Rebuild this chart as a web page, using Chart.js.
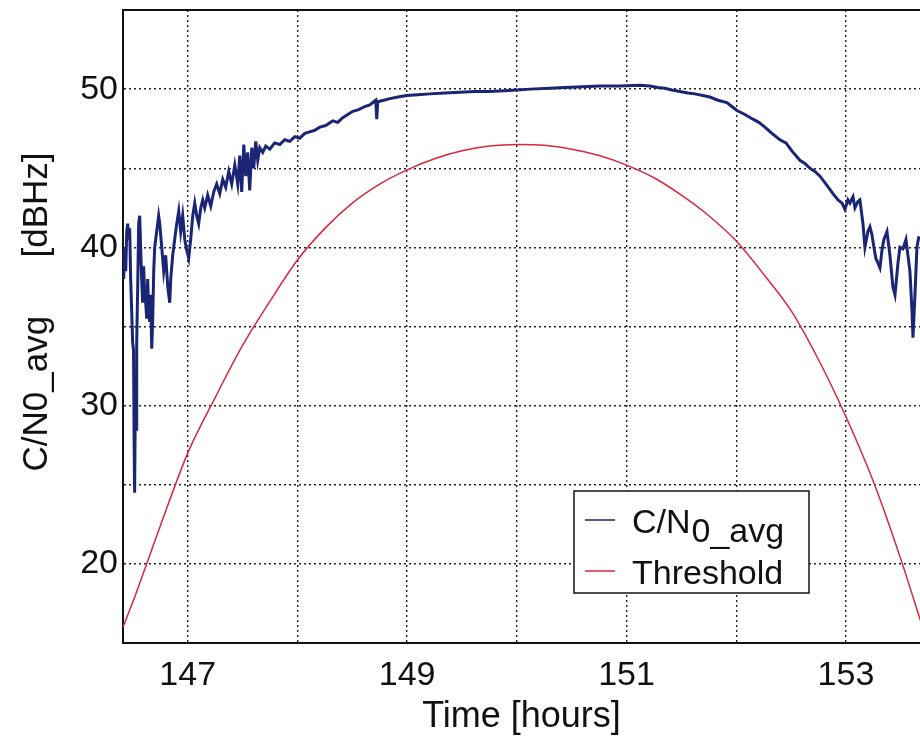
<!DOCTYPE html>
<html>
<head>
<meta charset="utf-8">
<script src="https://cdn.jsdelivr.net/npm/chart.js@4.4.1/dist/chart.umd.min.js"></script>
<style>
  html, body { margin: 0; padding: 0; background: #fff; }
  #wrap { width: 920px; height: 739px; }
</style>
</head>
<body>
<div id="wrap"><canvas id="cnChart" width="920" height="739"></canvas></div>
<script>
// C/N0_avg trace (hours, dBHz)
const cnTime = [
  146.416, 146.426, 146.435, 146.444, 146.453, 146.462, 146.471, 146.480, 146.489, 146.498,
  146.506, 146.511, 146.516, 146.521, 146.526, 146.530, 146.535, 146.544, 146.553, 146.562,
  146.571, 146.580, 146.589, 146.598, 146.608, 146.617, 146.626, 146.635, 146.644, 146.653,
  146.662, 146.672, 146.681, 146.690, 146.699, 146.717, 146.735, 146.745, 146.763, 146.781,
  146.799, 146.818, 146.836, 146.845, 146.863, 146.881, 146.900, 146.918, 146.936, 146.954,
  146.973, 146.991, 147.009, 147.027, 147.046, 147.064, 147.082, 147.100, 147.119, 147.137,
  147.155, 147.182, 147.210, 147.237, 147.264, 147.292, 147.319, 147.346, 147.374, 147.401,
  147.429, 147.456, 147.474, 147.492, 147.511, 147.529, 147.547, 147.565, 147.584, 147.602,
  147.620, 147.638, 147.657, 147.684, 147.711, 147.748, 147.793, 147.839, 147.884, 147.930,
  147.976, 148.021, 148.067, 148.112, 148.158, 148.204, 148.258, 148.322, 148.368, 148.413,
  148.459, 148.505, 148.559, 148.614, 148.660, 148.696, 148.714, 148.723, 148.732, 148.787,
  148.842, 148.915, 148.997, 149.097, 149.207, 149.343, 149.480, 149.617, 149.754, 149.890,
  150.000, 150.119, 150.301, 150.438, 150.602, 150.757, 150.939, 151.122, 151.213, 151.286,
  151.349, 151.413, 151.486, 151.559, 151.623, 151.696, 151.760, 151.833, 151.915, 151.960,
  152.006, 152.079, 152.152, 152.206, 152.261, 152.325, 152.398, 152.453, 152.507, 152.580,
  152.626, 152.672, 152.717, 152.763, 152.818, 152.882, 152.927, 152.964, 152.991, 153.018,
  153.036, 153.064, 153.082, 153.109, 153.127, 153.155, 153.173, 153.200, 153.219, 153.237,
  153.255, 153.273, 153.292, 153.310, 153.328, 153.346, 153.374, 153.401, 153.428, 153.447,
  153.474, 153.492, 153.520, 153.547, 153.565, 153.583, 153.602, 153.611, 153.629, 153.647,
  153.665
];
const cnValue = [
  38.0, 40.0, 38.5, 41.0, 41.5, 40.5, 41.2, 38.0, 36.0, 34.0,
  33.5, 28.0, 24.5, 29.0, 31.0, 28.5, 34.0, 37.5, 41.5, 42.0,
  40.0, 38.0, 36.5, 38.8, 37.0, 36.5, 35.5, 38.0, 36.0, 35.3,
  37.0, 33.6, 35.5, 38.5, 40.0, 41.0, 42.0, 41.5, 40.0, 38.5,
  39.5, 37.5, 36.5, 38.0, 39.5, 40.5, 41.5, 42.3, 41.0, 42.0,
  40.5, 39.8, 39.3, 40.5, 42.0, 42.8, 42.0, 41.5, 42.5, 43.0,
  42.5, 43.3, 42.6, 43.5, 44.0, 43.4, 44.3, 43.8, 44.8, 44.0,
  45.2, 44.0, 45.8, 43.5, 46.5, 44.5, 46.0, 43.6, 46.3, 45.0,
  46.7, 45.5, 46.3, 46.0, 46.4, 46.2, 46.6, 46.5, 46.8, 46.7,
  47.0, 46.9, 47.2, 47.3, 47.4, 47.6, 47.7, 48.0, 47.9, 48.2,
  48.4, 48.6, 48.7, 48.9, 49.0, 49.2, 49.3, 48.1, 49.2, 49.3,
  49.4, 49.5, 49.6, 49.65, 49.7, 49.75, 49.8, 49.85, 49.85, 49.9,
  49.95, 50.0, 50.05, 50.1, 50.15, 50.2, 50.2, 50.25, 50.2, 50.1,
  50.05, 49.95, 49.85, 49.75, 49.7, 49.6, 49.5, 49.3, 49.15, 48.9,
  48.65, 48.4, 48.1, 47.9, 47.6, 47.2, 46.8, 46.6, 46.1, 45.5,
  45.3, 45.0, 44.8, 44.5, 44.0, 43.4, 43.0, 42.8, 42.4, 43.0,
  42.8, 43.2, 42.5, 42.9, 43.0, 41.5, 40.0, 41.0, 41.3, 40.8,
  40.0, 39.3, 39.0, 38.7, 39.8, 40.5, 41.0, 39.5, 37.5, 37.0,
  39.0, 40.0, 39.9, 40.5, 39.5, 38.5, 36.0, 34.3, 37.0, 40.0,
  40.7
];

// Threshold curve (hours, dBHz)
const thrTime = [
  146.41, 146.5, 146.75, 147.0, 147.25, 147.5, 147.75, 148.0, 148.25, 148.5,
  148.75, 149.0, 149.25, 149.5, 149.75, 150.0, 150.25, 150.5, 150.75, 151.0,
  151.25, 151.5, 151.75, 152.0, 152.25, 152.5, 152.75, 153.0, 153.25, 153.5, 153.68
];
const thrValue = [
  16.0, 17.6, 22.4, 27.0, 30.5, 33.8, 36.6, 39.2, 41.2, 42.8,
  44.0, 44.9, 45.6, 46.1, 46.4, 46.5, 46.45, 46.2, 45.8, 45.2,
  44.4, 43.3, 42.0, 40.4, 38.3, 36.0, 32.9, 29.3, 25.2, 20.3, 16.4
];

// Axis ticks
const xGridHours = [147, 148, 149, 150, 151, 152, 153];
const xLabelHours = [147, 149, 151, 153];
const yLabelValues = [20, 30, 40, 50];

const seriesLabels = ['C/N0_avg', 'Threshold'];
const seriesColors = ['#1b2575', '#d8283c'];

const FONT = "'Liberation Sans', Arial, sans-serif";
const gridStyle = { color: '#222', lineWidth: 1.4, drawTicks: false };

// Legend box drawn inside the plot area
const legendBox = {
    id: 'legendBox',
    afterDraw(chart) {
        const ctx = chart.ctx;
        ctx.save();
        ctx.fillStyle = '#fff';
        ctx.fillRect(574, 491, 235, 102);
        ctx.strokeStyle = '#222';
        ctx.lineWidth = 1.6;
        ctx.strokeRect(574, 491, 235, 102);

        const rows = [{ y: 520, base: 533 }, { y: 571, base: 584 }];
        chart.data.datasets.forEach((ds, i) => {
            ctx.strokeStyle = ds.borderColor;
            ctx.lineWidth = 1.5;
            ctx.beginPath();
            ctx.moveTo(585, rows[i].y);
            ctx.lineTo(615, rows[i].y);
            ctx.stroke();
            ctx.fillStyle = '#111';
            ctx.font = '34px ' + FONT;
            ctx.textBaseline = 'alphabetic';
            ctx.textAlign = 'left';
            if (ds.label.startsWith('C/N')) {
                // subscript part of C/N0_avg sits a little lower
                ctx.fillText('C/N', 632, rows[i].base);
                const w = ctx.measureText('C/N').width;
                ctx.fillText(ds.label.slice(3), 632 + w + 1, rows[i].base + 9);
            } else {
                ctx.fillText(ds.label, 632, rows[i].base);
            }
        });
        ctx.restore();
    }
};

new Chart(document.getElementById('cnChart'), {
    type: 'line',
    data: {
        datasets: [
            {
                label: seriesLabels[0],
                data: cnTime.map((t, i) => ({ x: t, y: cnValue[i] })),
                borderColor: seriesColors[0],
                borderWidth: 3,
                pointRadius: 0,
                tension: 0,
                fill: false
            },
            {
                label: seriesLabels[1],
                data: thrTime.map((t, i) => ({ x: t, y: thrValue[i] })),
                borderColor: seriesColors[1],
                borderWidth: 1.5,
                pointRadius: 0,
                cubicInterpolationMode: 'monotone',
                fill: false
            }
        ]
    },
    options: {
        responsive: false,
        animation: false,
        layout: { padding: { top: 10, right: 0, bottom: 0, left: 0 } },
        plugins: {
            legend: { display: false },
            tooltip: { enabled: false }
        },
        scales: {
            x: {
                type: 'linear',
                position: 'bottom',
                min: 146.41,
                max: 153.675,
                afterBuildTicks: s => { s.ticks = xGridHours.map(v => ({ value: v })); },
                afterFit: s => { s.height = 96; s.paddingLeft = 0; s.paddingRight = 0; },
                grid: gridStyle,
                border: { display: true, color: '#111', width: 2, dash: [2, 3] },
                ticks: {
                    padding: 12,
                    color: '#111',
                    font: { family: FONT, size: 34 },
                    maxRotation: 0,
                    autoSkip: false,
                    callback: v => xLabelHours.includes(v) ? String(v) : ''
                },
                title: {
                    display: true,
                    text: 'Time [hours]',
                    color: '#111',
                    font: { family: FONT, size: 36 },
                    padding: { top: 0, bottom: 0 }
                }
            },
            xTop: {
                type: 'linear',
                position: 'top',
                min: 146.41,
                max: 153.675,
                afterFit: s => { s.height = 0; s.paddingLeft = 0; s.paddingRight = 0; },
                grid: { display: true, color: 'transparent', drawTicks: false },
                border: { display: true, color: '#111', width: 2 },
                ticks: { display: false }
            },
            y: {
                type: 'linear',
                min: 15,
                max: 55,
                afterFit: s => { s.width = 123; s.paddingTop = 0; s.paddingBottom = 0; },
                grid: gridStyle,
                border: { display: true, color: '#111', width: 2, dash: [2, 3] },
                ticks: {
                    stepSize: 5,
                    padding: 5,
                    color: '#111',
                    font: { family: FONT, size: 34 },
                    callback: v => yLabelValues.includes(v) ? String(v) : ''
                },
                title: {
                    display: true,
                    text: '   C/N0_avg      [dBHz]',
                    color: '#111',
                    font: { family: FONT, size: 35 },
                    padding: { top: 16, bottom: 0 }
                }
            }
        }
    },
    plugins: [legendBox]
});
</script>
</body>
</html>
